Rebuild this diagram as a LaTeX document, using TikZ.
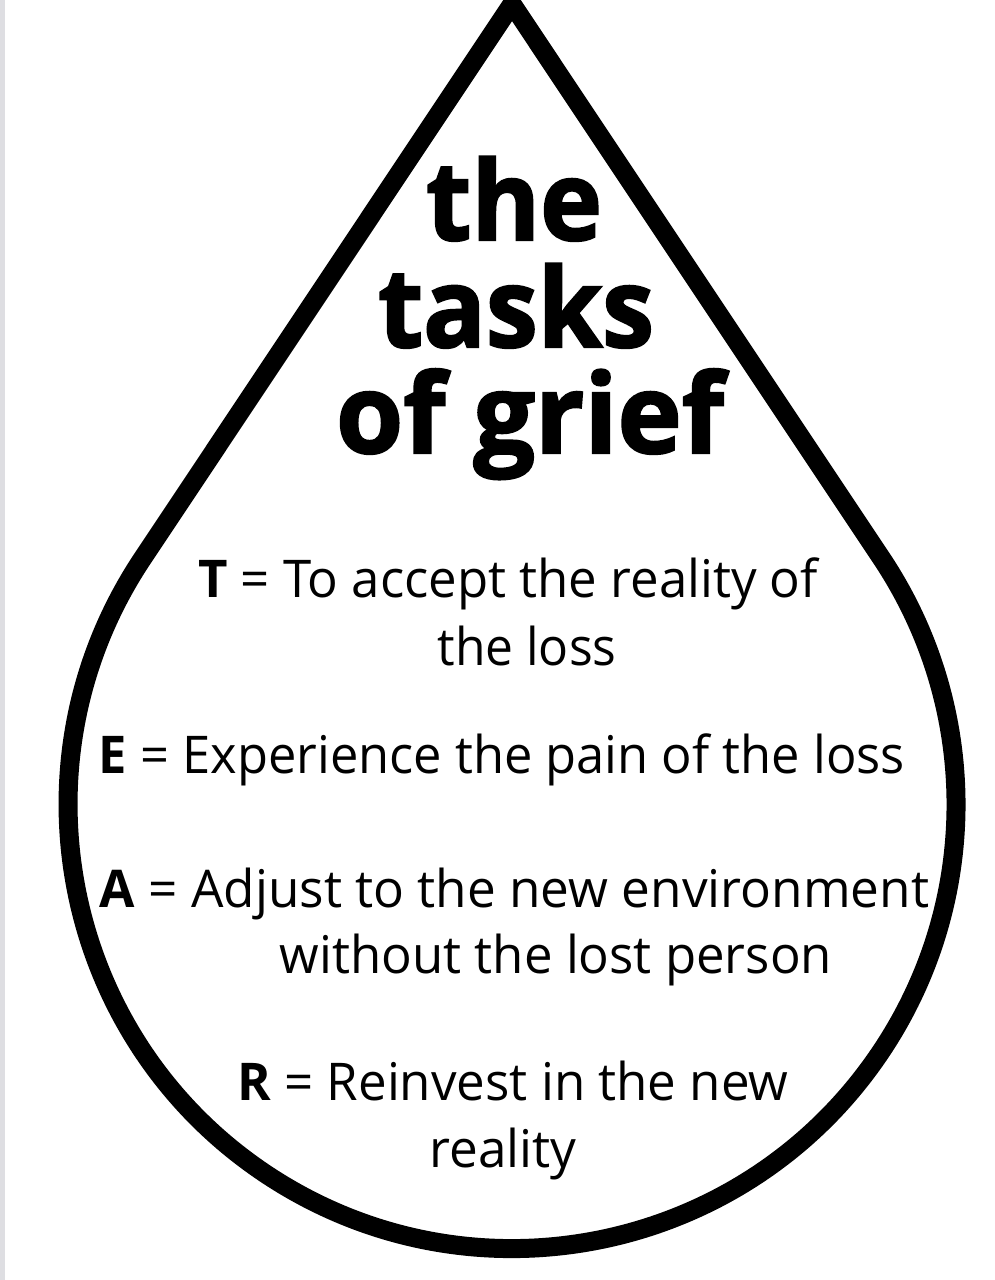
\documentclass[tikz,border=0pt]{standalone}
\usepackage{fontspec}
\setmainfont{Open Sans}
\newfontfamily\titlefont{Open Sans}[BoldFeatures={FakeBold=2}]
\usepackage{graphicx}
\definecolor{edgegray}{RGB}{222,222,226}
\tikzset{
  dropline/.style={line width=19pt, line join=miter, miter limit=10},
  titletext/.style={anchor=base, inner sep=0pt, font=\fontsize{110}{110}\titlefont\bfseries},
  bodytext/.style={anchor=base, inner sep=0pt, font=\fontsize{52}{52}\selectfont},
}
\newcommand\fitto[2]{\resizebox{#1pt}{\height}{#2}}
\begin{document}
\begin{tikzpicture}[x=1pt,y=1pt]
\clip (0,0) rectangle (994,-1280);
\fill[white] (0,0) rectangle (994,-1280);
\fill[edgegray] (0,0) rectangle (5,-1280);
\coordinate (tip) at (512,-4);
\coordinate (lt) at (141,-560.8);
\draw[dropline] (tip) -- (lt) arc[start angle=146.7,end angle=393.3,radius=444] -- cycle;
% title
\node[titletext] (title1) at (514,-240) {\fitto{176}{the}};
\node[titletext] (title2) at (516,-347) {\fitto{276}{tasks}};
\node[titletext] (title3) at (530,-453) {\fitto{388}{of grief}};
% items
\node[bodytext] (t1) at (508,-597) {\fitto{620}{\textbf{T} = To accept the reality of}};
\node[bodytext] (t2) at (527,-665) {\fitto{179}{the loss}};
\node[bodytext] (e1) at (502,-773) {\fitto{806}{\textbf{E} = Experience the pain of the loss}};
\node[bodytext] (a1) at (514.5,-907) {\fitto{829}{\textbf{A} = Adjust to the new environment}};
\node[bodytext] (a2) at (556,-973) {\fitto{552}{without the lost person}};
\node[bodytext] (r1) at (513,-1100) {\fitto{551}{\textbf{R} = Reinvest in the new}};
\node[bodytext] (r2) at (503,-1167) {\fitto{147}{reality}};
\end{tikzpicture}
\end{document}
